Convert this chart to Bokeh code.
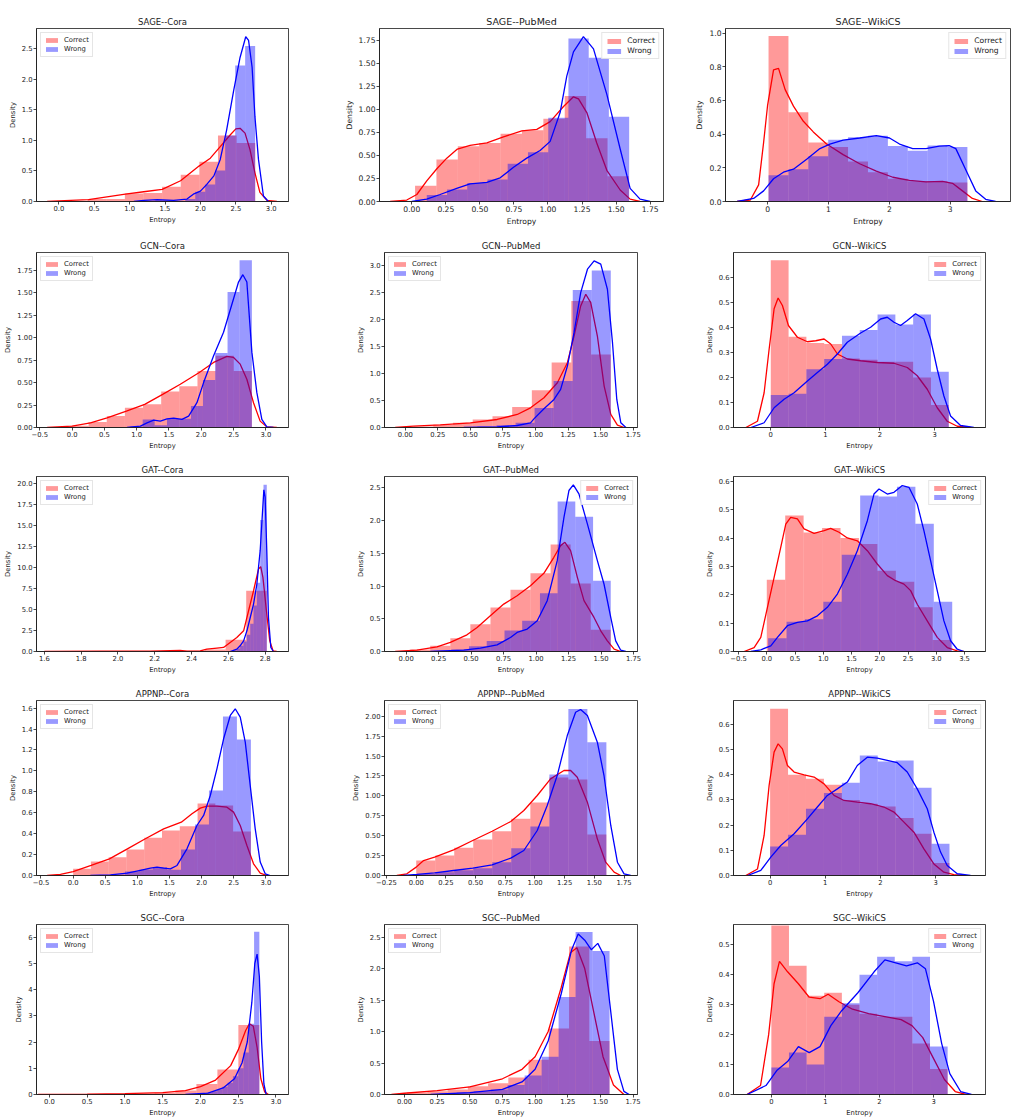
from bokeh.plotting import figure
from bokeh.layouts import column, row
from bokeh.models import Range1d, SingleIntervalTicker, CustomJSTickFormatter
from bokeh.embed import file_html
from bokeh.resources import INLINE

models = ["SAGE", "GCN", "GAT", "APPNP", "SGC"]
datasets = ["Cora", "PubMed", "WikiCS"]
series_labels = ["Correct", "Wrong"]
x_label = "Entropy"
y_label = "Density"

# ---------------- SAGE / Cora
sage_cora_c_edges = [0.144, 0.407, 0.670, 0.933, 1.196, 1.459, 1.722, 1.985, 2.248, 2.511, 2.774]
sage_cora_c_dens = [0.01, 0.04, 0.04, 0.13, 0.14, 0.24, 0.44, 0.65, 1.08, 0.96]
sage_cora_w_edges = [1.222, 1.363, 1.504, 1.645, 1.786, 1.927, 2.068, 2.209, 2.350, 2.491, 2.632, 2.773]
sage_cora_w_dens = [0.01, 0.02, 0.02, 0.01, 0.04, 0.16, 0.28, 0.51, 1.08, 2.23, 2.55]
sage_cora_c_kx = [-0.165, 0.0, 0.42, 0.94, 1.20, 1.46, 1.72, 1.98, 2.14, 2.28, 2.42, 2.50, 2.56, 2.63, 2.70, 2.77, 2.84, 2.94, 3.08]
sage_cora_c_ky = [0, 0.01, 0.03, 0.12, 0.16, 0.20, 0.34, 0.58, 0.71, 0.90, 1.09, 1.19, 1.20, 1.12, 0.85, 0.47, 0.15, 0.02, 0]
sage_cora_w_kx = [1.06, 1.20, 1.39, 1.62, 1.81, 1.90, 2.00, 2.09, 2.19, 2.28, 2.37, 2.47, 2.56, 2.64, 2.68, 2.73, 2.77, 2.82, 2.89, 2.96]
sage_cora_w_ky = [0, 0.02, 0.03, 0.02, 0.04, 0.12, 0.17, 0.28, 0.42, 0.69, 1.17, 1.82, 2.36, 2.70, 2.64, 2.20, 1.39, 0.69, 0.09, 0]

# ---------------- SAGE / PubMed
sage_pubmed_c_edges = [0.024, 0.181, 0.338, 0.495, 0.652, 0.809, 0.966, 1.123, 1.280, 1.437, 1.594]
sage_pubmed_c_dens = [0.17, 0.455, 0.60, 0.636, 0.735, 0.775, 0.90, 1.147, 0.686, 0.274]
sage_pubmed_w_edges = [0.110, 0.259, 0.407, 0.556, 0.704, 0.853, 1.002, 1.150, 1.299, 1.447, 1.596]
sage_pubmed_w_dens = [0.07, 0.13, 0.20, 0.24, 0.41, 0.535, 0.91, 1.77, 1.56, 0.92]
sage_pubmed_c_kx = [-0.159, -0.037, 0.037, 0.110, 0.184, 0.257, 0.335, 0.428, 0.551, 0.673, 0.808, 0.918, 1.016, 1.114, 1.187, 1.224, 1.285, 1.358, 1.432, 1.530, 1.603, 1.676]
sage_pubmed_c_ky = [0, 0.016, 0.076, 0.224, 0.356, 0.471, 0.570, 0.610, 0.636, 0.702, 0.768, 0.784, 0.867, 1.032, 1.137, 1.114, 0.966, 0.636, 0.339, 0.125, 0.026, 0]
sage_pubmed_w_kx = [0.0, 0.110, 0.208, 0.330, 0.428, 0.551, 0.649, 0.747, 0.844, 0.942, 1.016, 1.089, 1.138, 1.187, 1.260, 1.334, 1.432, 1.530, 1.603, 1.676, 1.750]
sage_pubmed_w_ky = [0, 0.026, 0.076, 0.142, 0.191, 0.208, 0.257, 0.372, 0.471, 0.554, 0.653, 0.966, 1.361, 1.625, 1.790, 1.658, 1.163, 0.570, 0.142, 0.026, 0]

# ---------------- SAGE / WikiCS
sage_wikics_c_edges = [0.016, 0.343, 0.669, 0.996, 1.322, 1.649, 1.976, 2.302, 2.629, 2.955, 3.282]
sage_wikics_c_dens = [0.982, 0.530, 0.350, 0.323, 0.237, 0.174, 0.135, 0.120, 0.120, 0.113]
sage_wikics_w_edges = [0.016, 0.343, 0.669, 0.996, 1.322, 1.649, 1.976, 2.302, 2.629, 2.955, 3.282]
sage_wikics_w_dens = [0.156, 0.192, 0.269, 0.366, 0.381, 0.391, 0.329, 0.302, 0.332, 0.323]
sage_wikics_c_kx = [-0.501, -0.283, -0.147, -0.065, 0.0, 0.098, 0.180, 0.289, 0.425, 0.588, 0.751, 0.969, 1.241, 1.513, 1.786, 2.058, 2.330, 2.602, 2.874, 3.038, 3.201, 3.364, 3.527]
sage_wikics_c_ky = [0, 0.009, 0.099, 0.35, 0.57, 0.781, 0.790, 0.664, 0.566, 0.476, 0.413, 0.341, 0.278, 0.224, 0.180, 0.144, 0.126, 0.117, 0.120, 0.108, 0.063, 0.018, 0]
sage_wikics_w_kx = [-0.501, -0.229, -0.065, 0.098, 0.261, 0.425, 0.642, 0.860, 1.023, 1.241, 1.513, 1.786, 2.003, 2.167, 2.384, 2.602, 2.820, 2.983, 3.092, 3.255, 3.419, 3.582, 3.745]
sage_wikics_w_ky = [0, 0.018, 0.063, 0.135, 0.174, 0.192, 0.251, 0.314, 0.341, 0.364, 0.377, 0.391, 0.377, 0.341, 0.314, 0.314, 0.329, 0.332, 0.314, 0.189, 0.063, 0.013, 0]

# ---------------- GCN / Cora
gcn_cora_c_edges = [-0.026, 0.255, 0.536, 0.817, 1.098, 1.379, 1.660, 1.941, 2.222, 2.503, 2.784]
gcn_cora_c_dens = [0.02, 0.06, 0.127, 0.22, 0.26, 0.40, 0.46, 0.63, 0.80, 0.63]
gcn_cora_w_edges = [0.902, 1.093, 1.278, 1.469, 1.660, 1.840, 2.026, 2.216, 2.407, 2.593, 2.784]
gcn_cora_w_dens = [0.01, 0.09, 0.026, 0.097, 0.097, 0.24, 0.53, 0.83, 1.507, 1.862]
gcn_cora_c_kx = [-0.387, 0.0, 0.284, 0.541, 0.840, 1.124, 1.402, 1.675, 1.969, 2.191, 2.397, 2.500, 2.603, 2.706, 2.809, 2.912, 3.015, 3.170]
gcn_cora_c_ky = [0, 0.015, 0.052, 0.108, 0.183, 0.257, 0.369, 0.481, 0.612, 0.724, 0.791, 0.780, 0.705, 0.537, 0.276, 0.071, 0.007, 0]
gcn_cora_w_kx = [0.851, 1.057, 1.160, 1.263, 1.366, 1.469, 1.572, 1.701, 1.804, 1.933, 2.036, 2.191, 2.345, 2.500, 2.577, 2.644, 2.706, 2.784, 2.861, 2.938, 3.015, 3.119]
gcn_cora_w_ky = [0, 0.015, 0.052, 0.082, 0.071, 0.097, 0.104, 0.090, 0.127, 0.276, 0.500, 0.799, 1.060, 1.433, 1.619, 1.701, 1.619, 0.836, 0.388, 0.090, 0.007, 0]

# ---------------- GCN / PubMed
gcn_pubmed_c_edges = [0.064, 0.215, 0.367, 0.518, 0.670, 0.821, 0.972, 1.124, 1.275, 1.427, 1.578]
gcn_pubmed_c_dens = [0.02, 0.05, 0.09, 0.15, 0.21, 0.38, 0.69, 1.20, 2.34, 1.35]
gcn_pubmed_w_edges = [0.554, 0.701, 0.847, 0.993, 1.139, 1.286, 1.432, 1.578]
gcn_pubmed_w_dens = [0.02, 0.04, 0.09, 0.36, 0.86, 2.54, 2.90]
gcn_pubmed_c_kx = [-0.077, 0.064, 0.269, 0.500, 0.706, 0.860, 0.962, 1.065, 1.168, 1.245, 1.296, 1.347, 1.386, 1.424, 1.475, 1.527, 1.578, 1.629, 1.681]
gcn_pubmed_c_ky = [0, 0.025, 0.049, 0.086, 0.148, 0.241, 0.364, 0.549, 0.827, 1.198, 1.691, 2.247, 2.463, 2.309, 1.691, 0.765, 0.241, 0.043, 0]
gcn_pubmed_w_kx = [0.449, 0.706, 0.860, 0.962, 0.988, 1.065, 1.142, 1.193, 1.245, 1.296, 1.347, 1.399, 1.450, 1.501, 1.552, 1.591, 1.624, 1.655, 1.694]
gcn_pubmed_w_ky = [0, 0.012, 0.037, 0.086, 0.160, 0.346, 0.519, 0.704, 1.136, 1.753, 2.494, 2.926, 3.080, 3.019, 2.556, 1.568, 0.519, 0.086, 0]

# ---------------- GCN / WikiCS
gcn_wikics_c_edges = [0.0, 0.326, 0.652, 0.978, 1.304, 1.630, 1.956, 2.282, 2.608, 2.934, 3.260]
gcn_wikics_c_dens = [0.669, 0.363, 0.338, 0.334, 0.276, 0.271, 0.263, 0.263, 0.20, 0.09]
gcn_wikics_w_edges = [0.0, 0.326, 0.652, 0.978, 1.304, 1.630, 1.956, 2.282, 2.608, 2.934, 3.260]
gcn_wikics_w_dens = [0.130, 0.135, 0.233, 0.274, 0.367, 0.390, 0.452, 0.412, 0.452, 0.223]
gcn_wikics_c_kx = [-0.457, -0.244, -0.122, -0.030, 0.061, 0.134, 0.213, 0.323, 0.488, 0.671, 0.823, 0.976, 1.098, 1.220, 1.402, 1.646, 1.951, 2.256, 2.500, 2.683, 2.866, 3.049, 3.232, 3.415, 3.659]
gcn_wikics_c_ky = [0, 0.025, 0.139, 0.314, 0.475, 0.518, 0.488, 0.408, 0.361, 0.343, 0.347, 0.354, 0.334, 0.294, 0.274, 0.267, 0.260, 0.257, 0.240, 0.207, 0.153, 0.079, 0.025, 0.005, 0]
gcn_wikics_w_kx = [-0.366, -0.122, 0.061, 0.244, 0.427, 0.671, 0.854, 1.037, 1.220, 1.402, 1.646, 1.829, 2.012, 2.134, 2.256, 2.378, 2.500, 2.652, 2.805, 2.927, 3.049, 3.171, 3.293, 3.476, 3.720]
gcn_wikics_w_ky = [0, 0.019, 0.079, 0.113, 0.139, 0.186, 0.220, 0.253, 0.294, 0.341, 0.378, 0.401, 0.434, 0.441, 0.421, 0.408, 0.428, 0.455, 0.434, 0.354, 0.233, 0.126, 0.046, 0.008, 0]

# ---------------- GAT / Cora
gat_cora_c_edges = [1.687, 1.799, 1.911, 2.024, 2.136, 2.248, 2.360, 2.472, 2.585, 2.697, 2.809]
gat_cora_c_dens = [0.02, 0.01, 0.01, 0.01, 0.02, 0.05, 0.08, 0.25, 1.39, 7.25]
gat_cora_w_edges = [2.628, 2.646, 2.664, 2.682, 2.700, 2.719, 2.737, 2.755, 2.773, 2.791, 2.809]
gat_cora_w_dens = [0.15, 0.35, 0.7, 1.2, 2.0, 3.3, 5.5, 8.2, 15.7, 19.9]
gat_cora_c_kx = [1.600, 1.904, 2.176, 2.338, 2.375, 2.447, 2.483, 2.538, 2.574, 2.610, 2.646, 2.683, 2.710, 2.737, 2.764, 2.776, 2.788, 2.807, 2.825, 2.843, 2.863]
gat_cora_c_ky = [0, 0.04, 0.04, 0.12, 0.04, 0.08, 0.28, 0.40, 0.48, 1.08, 1.67, 2.47, 4.86, 7.25, 9.84, 10.12, 8.84, 4.86, 1.27, 0.08, 0]
gat_cora_w_kx = [2.610, 2.646, 2.664, 2.683, 2.701, 2.719, 2.737, 2.755, 2.773, 2.784, 2.793, 2.800, 2.809, 2.818, 2.831, 2.845]
gat_cora_w_ky = [0, 0.28, 0.68, 1.27, 2.47, 4.06, 5.66, 8.05, 12.03, 16.02, 19.28, 18.41, 12.03, 4.06, 0.48, 0]

# ---------------- GAT / PubMed
gat_pubmed_c_edges = [0.031, 0.185, 0.340, 0.494, 0.649, 0.803, 0.957, 1.112, 1.266, 1.421, 1.575]
gat_pubmed_c_dens = [0.03, 0.087, 0.204, 0.418, 0.673, 0.944, 1.194, 1.633, 1.04, 0.332]
gat_pubmed_w_edges = [0.211, 0.347, 0.484, 0.620, 0.757, 0.893, 1.030, 1.166, 1.302, 1.439, 1.575]
gat_pubmed_w_dens = [0.01, 0.03, 0.08, 0.16, 0.32, 0.47, 0.89, 2.29, 2.06, 1.08]
gat_pubmed_c_kx = [-0.085, 0.082, 0.237, 0.340, 0.468, 0.546, 0.648, 0.751, 0.854, 0.957, 1.060, 1.137, 1.189, 1.222, 1.266, 1.318, 1.369, 1.446, 1.498, 1.549, 1.601, 1.652]
gat_pubmed_c_ky = [0, 0.020, 0.071, 0.138, 0.255, 0.367, 0.546, 0.724, 0.852, 1.005, 1.194, 1.439, 1.617, 1.668, 1.541, 1.133, 0.776, 0.520, 0.316, 0.163, 0.036, 0]
gat_pubmed_w_kx = [0.185, 0.443, 0.571, 0.700, 0.803, 0.854, 0.932, 1.009, 1.086, 1.163, 1.215, 1.253, 1.287, 1.330, 1.395, 1.472, 1.523, 1.575, 1.613, 1.652, 1.691]
gat_pubmed_w_ky = [0, 0.020, 0.051, 0.102, 0.214, 0.291, 0.342, 0.469, 0.776, 1.388, 2.051, 2.459, 2.546, 2.408, 1.949, 1.388, 1.031, 0.520, 0.163, 0.020, 0]

# ---------------- GAT / WikiCS
gat_wikics_c_edges = [0.0, 0.326, 0.652, 0.979, 1.305, 1.631, 1.957, 2.284, 2.610, 2.936, 3.262]
gat_wikics_c_dens = [0.253, 0.480, 0.420, 0.436, 0.401, 0.380, 0.285, 0.246, 0.156, 0.041]
gat_wikics_w_edges = [0.024, 0.350, 0.675, 1.001, 1.327, 1.653, 1.978, 2.304, 2.630, 2.956, 3.282]
gat_wikics_w_dens = [0.047, 0.105, 0.114, 0.176, 0.342, 0.551, 0.547, 0.582, 0.451, 0.176]
gat_wikics_c_kx = [-0.401, -0.224, -0.106, 0.012, 0.130, 0.247, 0.336, 0.424, 0.542, 0.660, 0.837, 1.014, 1.131, 1.279, 1.426, 1.603, 1.780, 1.956, 2.133, 2.280, 2.428, 2.546, 2.663, 2.840, 3.017, 3.194, 3.371, 3.489]
gat_wikics_c_ky = [0, 0.014, 0.050, 0.156, 0.262, 0.368, 0.450, 0.474, 0.468, 0.433, 0.417, 0.427, 0.435, 0.421, 0.401, 0.391, 0.356, 0.309, 0.268, 0.250, 0.238, 0.215, 0.167, 0.108, 0.050, 0.014, 0.002, 0]
gat_wikics_w_kx = [-0.283, -0.106, 0.071, 0.189, 0.365, 0.542, 0.719, 0.896, 1.072, 1.249, 1.426, 1.603, 1.780, 1.897, 1.986, 2.133, 2.251, 2.398, 2.516, 2.663, 2.781, 2.899, 3.017, 3.135, 3.253, 3.371, 3.489]
gat_wikics_w_ky = [0, 0.006, 0.020, 0.050, 0.091, 0.103, 0.108, 0.126, 0.156, 0.203, 0.273, 0.356, 0.462, 0.556, 0.574, 0.556, 0.562, 0.586, 0.580, 0.521, 0.427, 0.321, 0.215, 0.108, 0.038, 0.008, 0]

# ---------------- APPNP / Cora
appnp_cora_c_edges = [0.0, 0.277, 0.553, 0.830, 1.107, 1.383, 1.660, 1.937, 2.213, 2.490, 2.767]
appnp_cora_c_dens = [0.064, 0.134, 0.175, 0.249, 0.36, 0.43, 0.47, 0.688, 0.669, 0.42]
appnp_cora_w_edges = [0.373, 0.591, 0.808, 1.026, 1.243, 1.461, 1.679, 1.896, 2.114, 2.332, 2.549, 2.767]
appnp_cora_w_dens = [0.005, 0.01, 0.038, 0.057, 0.08, 0.054, 0.249, 0.488, 0.813, 1.52, 1.30]
appnp_cora_c_kx = [-0.404, -0.197, 0.0, 0.280, 0.565, 0.845, 1.124, 1.409, 1.684, 1.850, 1.979, 2.083, 2.238, 2.394, 2.497, 2.601, 2.705, 2.808, 2.912, 3.016]
appnp_cora_c_ky = [0, 0.010, 0.038, 0.096, 0.159, 0.255, 0.351, 0.446, 0.510, 0.590, 0.644, 0.663, 0.663, 0.653, 0.606, 0.478, 0.287, 0.112, 0.022, 0]
appnp_cora_w_kx = [0.269, 0.580, 0.839, 1.047, 1.202, 1.306, 1.409, 1.513, 1.617, 1.772, 1.927, 2.031, 2.135, 2.238, 2.342, 2.446, 2.523, 2.601, 2.679, 2.756, 2.834, 2.912, 2.990, 3.067]
appnp_cora_w_ky = [0, 0.006, 0.022, 0.048, 0.070, 0.080, 0.070, 0.064, 0.096, 0.255, 0.478, 0.574, 0.765, 1.020, 1.307, 1.530, 1.594, 1.514, 1.275, 0.861, 0.446, 0.128, 0.016, 0]

# ---------------- APPNP / PubMed
appnp_pubmed_c_edges = [0.0, 0.160, 0.320, 0.480, 0.640, 0.800, 0.961, 1.121, 1.281, 1.441, 1.601]
appnp_pubmed_c_dens = [0.188, 0.251, 0.347, 0.452, 0.556, 0.711, 0.916, 1.23, 1.205, 0.515]
appnp_pubmed_w_edges = [0.0, 0.160, 0.320, 0.480, 0.640, 0.800, 0.961, 1.121, 1.281, 1.441, 1.601]
appnp_pubmed_w_dens = [0.02, 0.04, 0.065, 0.09, 0.167, 0.343, 0.615, 1.268, 2.09, 1.674]
appnp_pubmed_c_kx = [-0.163, -0.079, 0.0, 0.062, 0.155, 0.315, 0.476, 0.639, 0.796, 0.906, 1.019, 1.131, 1.244, 1.300, 1.356, 1.441, 1.525, 1.595, 1.666, 1.722]
appnp_pubmed_c_ky = [0, 0.021, 0.105, 0.188, 0.230, 0.322, 0.439, 0.556, 0.678, 0.816, 1.004, 1.213, 1.318, 1.318, 1.234, 0.921, 0.460, 0.167, 0.042, 0]
appnp_pubmed_w_kx = [-0.107, 0.006, 0.155, 0.315, 0.476, 0.639, 0.796, 0.906, 1.019, 1.103, 1.187, 1.272, 1.342, 1.384, 1.441, 1.525, 1.581, 1.638, 1.694, 1.750, 1.806]
appnp_pubmed_w_ky = [0, 0.013, 0.033, 0.063, 0.092, 0.134, 0.218, 0.314, 0.565, 0.879, 1.255, 1.757, 2.050, 2.084, 2.008, 1.674, 1.255, 0.628, 0.167, 0.021, 0]

# ---------------- APPNP / WikiCS
appnp_wikics_c_edges = [0.0, 0.325, 0.650, 0.976, 1.301, 1.626, 1.951, 2.276, 2.602, 2.927, 3.252]
appnp_wikics_c_dens = [0.662, 0.40, 0.384, 0.36, 0.30, 0.285, 0.274, 0.228, 0.166, 0.05]
appnp_wikics_w_edges = [0.0, 0.325, 0.650, 0.976, 1.301, 1.626, 1.951, 2.276, 2.602, 2.927, 3.252]
appnp_wikics_w_dens = [0.115, 0.162, 0.265, 0.328, 0.368, 0.477, 0.453, 0.457, 0.348, 0.126]
appnp_wikics_c_kx = [-0.441, -0.229, -0.109, -0.018, 0.072, 0.145, 0.223, 0.314, 0.435, 0.616, 0.797, 0.978, 1.159, 1.340, 1.581, 1.823, 2.064, 2.245, 2.426, 2.607, 2.788, 2.969, 3.150, 3.331, 3.512]
appnp_wikics_c_ky = [0, 0.026, 0.159, 0.358, 0.490, 0.523, 0.503, 0.437, 0.411, 0.400, 0.391, 0.364, 0.318, 0.298, 0.291, 0.285, 0.272, 0.252, 0.212, 0.172, 0.106, 0.046, 0.013, 0.003, 0]
appnp_wikics_w_kx = [-0.410, -0.169, 0.012, 0.193, 0.435, 0.676, 0.857, 1.038, 1.219, 1.400, 1.581, 1.762, 1.943, 2.124, 2.305, 2.486, 2.667, 2.849, 2.969, 3.090, 3.211, 3.392, 3.633]
appnp_wikics_w_ky = [0, 0.020, 0.073, 0.119, 0.166, 0.225, 0.272, 0.318, 0.344, 0.371, 0.437, 0.470, 0.466, 0.457, 0.448, 0.411, 0.344, 0.265, 0.172, 0.093, 0.040, 0.007, 0]

# ---------------- SGC / Cora
sgc_cora_c_edges = [0.0, 0.278, 0.556, 0.834, 1.112, 1.390, 1.668, 1.946, 2.224, 2.502, 2.780]
sgc_cora_c_dens = [0.005, 0.01, 0.02, 0.02, 0.04, 0.07, 0.15, 0.40, 0.95, 2.65]
sgc_cora_w_edges = [1.80, 1.87, 1.94, 2.01, 2.08, 2.15, 2.22, 2.29, 2.36, 2.43, 2.50, 2.57, 2.64, 2.71, 2.78]
sgc_cora_w_dens = [0.02, 0.02, 0.03, 0.05, 0.08, 0.12, 0.20, 0.30, 0.45, 0.70, 1.00, 1.60, 2.70, 6.20]
sgc_cora_c_kx = [-0.15, 0.5, 1.0, 1.5, 1.8, 2.0, 2.2, 2.4, 2.5, 2.6, 2.65, 2.7, 2.75, 2.8, 2.85, 2.9]
sgc_cora_c_ky = [0, 0.01, 0.03, 0.07, 0.15, 0.3, 0.55, 1.1, 1.7, 2.45, 2.7, 2.6, 1.8, 0.6, 0.1, 0]
sgc_cora_w_kx = [1.8, 2.1, 2.3, 2.45, 2.55, 2.62, 2.68, 2.72, 2.75, 2.78, 2.81, 2.84, 2.87]
sgc_cora_w_ky = [0, 0.05, 0.25, 0.6, 1.2, 2.0, 3.5, 5.0, 5.35, 4.5, 2.0, 0.4, 0]

# ---------------- SGC / PubMed
sgc_pubmed_c_edges = [0.02, 0.175, 0.33, 0.485, 0.64, 0.795, 0.95, 1.105, 1.26, 1.415, 1.57]
sgc_pubmed_c_dens = [0.03, 0.05, 0.08, 0.13, 0.18, 0.27, 0.55, 1.05, 2.35, 0.85]
sgc_pubmed_w_edges = [0.27, 0.40, 0.53, 0.66, 0.79, 0.92, 1.05, 1.18, 1.31, 1.44, 1.57]
sgc_pubmed_w_dens = [0.02, 0.03, 0.05, 0.08, 0.15, 0.30, 0.60, 1.55, 2.58, 2.28]
sgc_pubmed_c_kx = [-0.1, 0.0, 0.25, 0.5, 0.75, 0.9, 1.0, 1.1, 1.2, 1.27, 1.32, 1.38, 1.45, 1.52, 1.6, 1.68]
sgc_pubmed_c_ky = [0, 0.02, 0.06, 0.12, 0.25, 0.4, 0.6, 1.0, 1.7, 2.25, 2.33, 2.0, 1.3, 0.6, 0.15, 0]
sgc_pubmed_w_kx = [0.2, 0.5, 0.75, 0.9, 1.0, 1.1, 1.2, 1.28, 1.33, 1.38, 1.43, 1.48, 1.53, 1.58, 1.63, 1.68, 1.72]
sgc_pubmed_w_ky = [0, 0.03, 0.08, 0.2, 0.4, 0.85, 1.6, 2.3, 2.55, 2.45, 2.3, 2.4, 2.2, 1.3, 0.4, 0.05, 0]

# ---------------- SGC / WikiCS
sgc_wikics_c_edges = [0.0, 0.326, 0.652, 0.978, 1.304, 1.630, 1.956, 2.282, 2.608, 2.934, 3.260]
sgc_wikics_c_dens = [0.565, 0.43, 0.33, 0.34, 0.30, 0.27, 0.26, 0.26, 0.17, 0.085]
sgc_wikics_w_edges = [0.0, 0.326, 0.652, 0.978, 1.304, 1.630, 1.956, 2.282, 2.608, 2.934, 3.260]
sgc_wikics_w_dens = [0.09, 0.14, 0.10, 0.26, 0.305, 0.40, 0.46, 0.445, 0.46, 0.16]
sgc_wikics_c_kx = [-0.45, -0.2, -0.05, 0.05, 0.15, 0.3, 0.5, 0.7, 0.9, 1.05, 1.25, 1.5, 1.8, 2.1, 2.4, 2.6, 2.8, 3.0, 3.2, 3.4, 3.6]
sgc_wikics_c_ky = [0, 0.03, 0.2, 0.37, 0.445, 0.41, 0.37, 0.325, 0.32, 0.335, 0.31, 0.285, 0.27, 0.26, 0.25, 0.23, 0.19, 0.12, 0.05, 0.01, 0]
sgc_wikics_w_kx = [-0.45, -0.1, 0.1, 0.3, 0.5, 0.7, 0.9, 1.1, 1.3, 1.6, 1.9, 2.1, 2.3, 2.5, 2.7, 2.85, 3.0, 3.15, 3.3, 3.5, 3.7]
sgc_wikics_w_ky = [0, 0.03, 0.08, 0.11, 0.16, 0.14, 0.16, 0.23, 0.28, 0.34, 0.41, 0.45, 0.44, 0.43, 0.44, 0.42, 0.31, 0.17, 0.07, 0.01, 0]

# ---------------- axis / style configuration per panel
# (x_min, x_max, y_max, x_tick_step, x_decimals, y_tick_step, y_decimals, legend location)
view = {
    ("SAGE", "Cora"): (-0.315, 3.244, 2.835, 0.5, 1, 0.5, 1, "top_left"),
    ("SAGE", "PubMed"): (-0.237, 1.848, 1.879, 0.25, 2, 0.25, 2, "top_right"),
    ("SAGE", "WikiCS"): (-0.691, 3.990, 1.027, 1, 0, 0.2, 1, "top_right"),
    ("GCN", "Cora"): (-0.552, 3.351, 1.948, 0.5, 1, 0.25, 2, "top_left"),
    ("GCN", "PubMed"): (-0.159, 1.783, 3.235, 0.25, 2, 0.5, 1, "top_left"),
    ("GCN", "WikiCS"): (-0.683, 3.933, 0.700, 1, 0, 0.1, 1, "top_right"),
    ("GAT", "Cora"): (1.557, 2.927, 20.88, 0.2, 1, 2.5, 1, "top_left"),
    ("GAT", "PubMed"): (-0.167, 1.781, 2.673, 0.25, 2, 0.5, 1, "top_right"),
    ("GAT", "WikiCS"): (-0.589, 3.871, 0.618, 0.5, 1, 0.1, 1, "top_right"),
    ("APPNP", "Cora"): (-0.570, 3.352, 1.673, 0.5, 1, 0.2, 1, "top_left"),
    ("APPNP", "PubMed"): (-0.267, 1.863, 2.197, 0.25, 2, 0.25, 2, "top_left"),
    ("APPNP", "WikiCS"): (-0.664, 3.905, 0.695, 1, 0, 0.1, 1, "top_right"),
    ("SGC", "Cora"): (-0.172, 3.166, 6.48, 0.5, 1, 1, 0, "top_left"),
    ("SGC", "PubMed"): (-0.153, 1.784, 2.70, 0.25, 2, 0.5, 1, "top_left"),
    ("SGC", "WikiCS"): (-0.70, 3.96, 0.568, 1, 0, 0.1, 1, "top_right"),
}

FONT = "DejaVu Sans"
INK = "#1a1a1a"


def series(model, ds):
    key = f"{model.lower()}_{ds.lower()}"
    g = globals()
    return {k: g[f"{key}_{k}"] for k in
            ["c_edges", "c_dens", "w_edges", "w_dens", "c_kx", "c_ky", "w_kx", "w_ky"]}


def fmt(dec):
    return CustomJSTickFormatter(code=f"return tick.toFixed({dec}).replace('-', '\u2212');")


def make_panel(model, ds, W, H, bl, br, bt, bb, big):
    d = series(model, ds)
    x0, x1, ymax, xs, xd, ys, yd, loc = view[(model, ds)]
    fs_t = "9.5px" if big else "8.5px"
    fs = "7.6px" if big else "6.8px"
    p = figure(width=W, height=H, x_range=Range1d(x0, x1), y_range=Range1d(0, ymax),
               output_backend="svg", toolbar_location=None,
               min_border_left=bl, min_border_right=br, min_border_top=bt, min_border_bottom=bb,
               title=f"{model}--{ds}")
    p.title.text_font = FONT
    p.title.text_font_size = fs_t
    p.title.text_font_style = "normal"
    p.title.text_color = INK
    p.title.align = "center"
    p.title.standoff = 3

    cols = ["red", "blue"]
    for i, pre in enumerate(["c", "w"]):
        e = d[f"{pre}_edges"]
        p.quad(left=e[:-1], right=e[1:], bottom=0, top=d[f"{pre}_dens"],
               fill_color=cols[i], fill_alpha=0.4, line_color=None,
               legend_label=series_labels[i])
        p.line(d[f"{pre}_kx"], d[f"{pre}_ky"], line_color=cols[i], line_width=1.3)

    p.xaxis.ticker = SingleIntervalTicker(interval=xs, num_minor_ticks=0)
    p.yaxis.ticker = SingleIntervalTicker(interval=ys, num_minor_ticks=0)
    p.xaxis.formatter = fmt(xd)
    p.yaxis.formatter = fmt(yd)
    p.xaxis.axis_label = x_label
    p.yaxis.axis_label = y_label
    for ax in (p.xaxis[0], p.yaxis[0]):
        ax.major_label_text_font = FONT
        ax.major_label_text_font_size = fs
        ax.major_label_text_color = INK
        ax.axis_label_text_font = FONT
        ax.axis_label_text_font_size = fs
        ax.axis_label_text_font_style = "normal"
        ax.axis_label_text_color = INK
        ax.major_tick_out = 3
        ax.major_tick_in = 0
        ax.minor_tick_out = 0
        ax.minor_tick_in = 0
        ax.major_tick_line_color = INK
        ax.major_tick_line_width = 0.8
        ax.axis_line_color = INK
        ax.axis_line_width = 0.8
        ax.major_label_standoff = 1
        ax.axis_label_standoff = 2
    p.grid.visible = False
    p.outline_line_color = INK
    p.outline_line_width = 0.8
    p.outline_line_alpha = 1.0
    p.background_fill_color = "white"
    p.border_fill_color = "white"

    lg = p.legend[0]
    lg.location = loc
    lg.label_text_font = FONT
    lg.label_text_font_size = fs
    lg.label_text_color = INK
    lg.glyph_width = 15 if not big else 17
    lg.glyph_height = 6
    lg.label_height = 8
    lg.label_standoff = 5
    lg.spacing = 1
    lg.padding = 3
    lg.margin = 4
    lg.border_line_color = "#cccccc"
    lg.border_line_width = 0.8
    lg.background_fill_alpha = 0.85
    return p


# cell geometry: (width, left border, right border) per column; rows below
col_geo = [(336, 36, 48), (334, 48, 33), (342, 63, 27)]
rows = []
for r, model in enumerate(models):
    figs = []
    for c, ds in enumerate(datasets):
        W, bl, br = col_geo[c]
        big = False
        if r == 0:
            H, bt, bb = 228, 28, 26
            if c == 1:
                bl, br, bt, bb, big = 43, 7, 15, 24, True
            elif c == 2:
                bl, br, bt, bb, big = 55, 2, 15, 24, True
        elif r == 4:
            H, bt, bb = 219, 24, 21
        else:
            H, bt, bb = 224, 24, 25
        figs.append(make_panel(model, ds, W, H, bl, br, bt, bb, big))
    rows.append(row(*figs))

layout = column(*rows)
open("out.html", "w").write(file_html(layout, INLINE))
